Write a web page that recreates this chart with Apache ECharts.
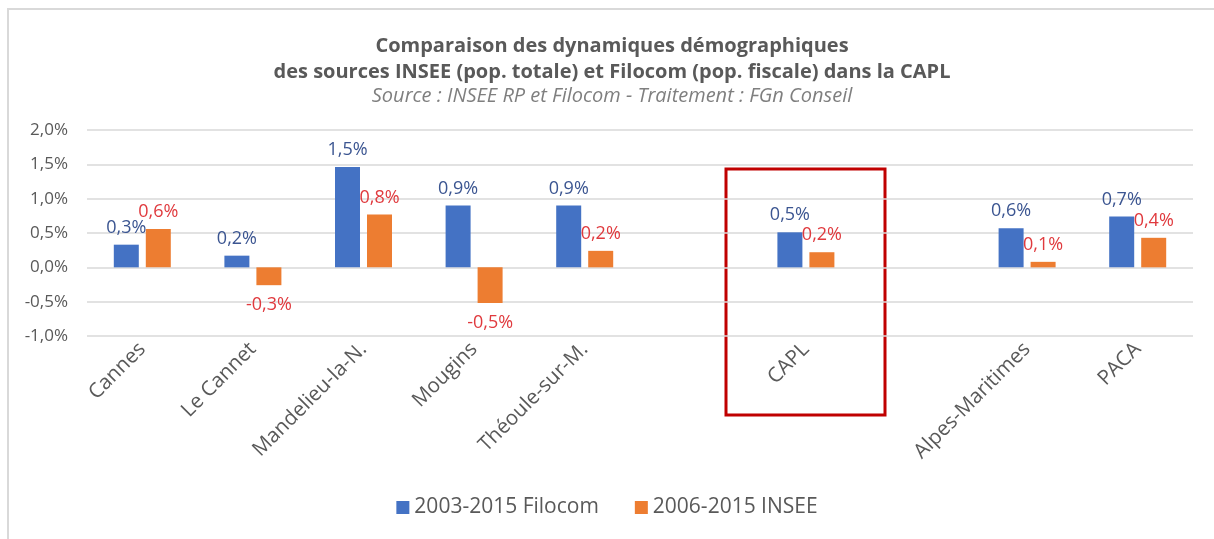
<!DOCTYPE html>
<html>
<head>
<meta charset="utf-8">
<script src="https://cdn.jsdelivr.net/npm/echarts@6/dist/echarts.min.js"></script>
<style>
html,body{margin:0;padding:0;background:#fff;}
#chart{width:1214px;height:539px;}
</style>
</head>
<body>
<div id="chart"></div>
<script>
// Categories (empty strings are the spacer slots of the original chart)
const categories = ['Cannes', 'Le Cannet', 'Mandelieu-la-N.', 'Mougins', 'Théoule-sur-M.', '', 'CAPL', '', 'Alpes-Maritimes', 'PACA'];
// Annual growth rates, in %
const filocom = [0.33, 0.17, 1.46, 0.90, 0.90, null, 0.51, null, 0.57, 0.74];
const insee   = [0.56, -0.26, 0.77, -0.52, 0.24, null, 0.22, null, 0.08, 0.43];
const seriesNames = ['2003-2015 Filocom', '2006-2015 INSEE'];
const yTicks = { min: -1.0, max: 2.0, interval: 0.5 };

const FONT = 'Open Sans';
const GREY = '#595959';
const fmt = v => v.toFixed(1).replace('.', ',') + '%';

function labelCfg(color) {
  return {
    show: true,
    position: 'top',
    fontFamily: FONT,
    fontSize: 18,
    color: color,
    distance: 8,
    formatter: p => (p.value == null ? '' : fmt(p.value))
  };
}

function withNegLabels(arr) {
  return arr.map(v => {
    if (v == null) return null;
    if (v < 0) return { value: v, label: { position: 'bottom', distance: 11 } };
    return v;
  });
}

const chart = echarts.init(document.getElementById('chart'), null, { renderer: 'canvas' });
chart.setOption({
  backgroundColor: '#ffffff',
  animation: false,
  title: [
    {
      text: 'Comparaison des dynamiques démographiques\ndes sources INSEE (pop. totale) et Filocom (pop. fiscale) dans la CAPL',
      left: '50%',
      top: 28,
      textAlign: 'center',
      textStyle: { fontFamily: FONT, fontSize: 20, fontWeight: 'bold', color: GREY, lineHeight: 26, align: 'center' }
    },
    {
      text: 'Source : INSEE RP et Filocom - Traitement : FGn Conseil',
      left: '50%',
      top: 81,
      textAlign: 'center',
      textStyle: { fontFamily: FONT, fontSize: 20, fontStyle: 'italic', fontWeight: 'normal', color: '#7F7F7F' }
    }
  ],
  legend: {
    bottom: 16,
    left: 'center',
    itemWidth: 13,
    itemHeight: 13,
    itemGap: 36,
    icon: 'rect',
    textStyle: { fontFamily: FONT, fontSize: 21, color: GREY },
    data: seriesNames
  },
  grid: { left: 87, right: 21, top: 130, bottom: 203, containLabel: false },
  xAxis: {
    type: 'category',
    data: categories,
    axisLine: { show: false, onZero: false },
    axisTick: { show: false },
    axisLabel: { rotate: 45, margin: 10, fontFamily: FONT, fontSize: 20.5, color: GREY, interval: 0 }
  },
  yAxis: {
    type: 'value',
    min: yTicks.min,
    max: yTicks.max,
    interval: yTicks.interval,
    axisLine: { show: false },
    axisTick: { show: false },
    axisLabel: { margin: 19, fontFamily: FONT, fontSize: 17, color: GREY, formatter: v => fmt(v) },
    splitLine: { lineStyle: { color: '#D9D9D9', width: 1.5 } }
  },
  series: [
    {
      name: seriesNames[0],
      type: 'bar',
      barWidth: 25,
      barGap: '28%',
      itemStyle: { color: '#4472C4' },
      label: labelCfg('#3B5591'),
      data: withNegLabels(filocom)
    },
    {
      name: seriesNames[1],
      type: 'bar',
      barWidth: 25,
      barGap: '28%',
      itemStyle: { color: '#ED7D31' },
      label: labelCfg('#E03A3E'),
      data: withNegLabels(insee)
    }
  ],
  graphic: [
    { type: 'line', shape: { x1: 7, y1: 9, x2: 1214, y2: 9 }, style: { stroke: '#D9D9D9', lineWidth: 2 } },
    { type: 'line', shape: { x1: 8, y1: 9, x2: 8, y2: 539 }, style: { stroke: '#D9D9D9', lineWidth: 2 } },
    { type: 'rect', shape: { x: 726, y: 169, width: 159, height: 246 }, style: { fill: 'none', stroke: '#C00000', lineWidth: 3 } }
  ]
});
</script>
</body>
</html>
